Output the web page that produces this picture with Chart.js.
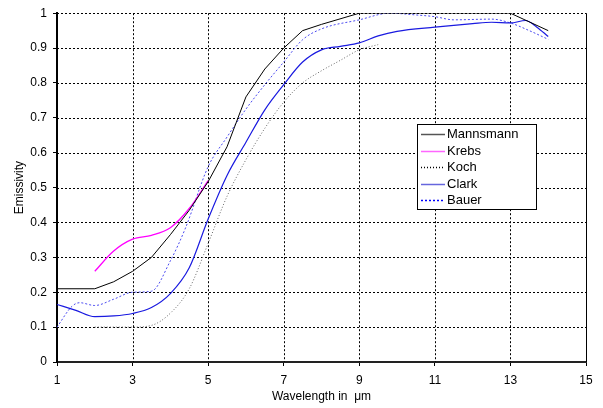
<!DOCTYPE html>
<html lang="en">
  <head>
    <meta charset="UTF-8" />
    <style>
      html, body { margin: 0; padding: 0; background: #fff; }
    </style>
  </head>
  <body>
    <canvas id="myChart" width="603" height="408"></canvas>
    <script src="https://cdn.jsdelivr.net/npm/chart.js@4.4.0/dist/chart.umd.min.js"></script>
    <script>
      // wavelength (um) / emissivity pairs
      var mannsmannX = [1, 2, 2.5, 3, 3.5, 4, 4.5, 5, 5.5, 6, 6.5, 7, 7.5, 8, 9, 10, 11, 12, 13, 14];
      var mannsmannY = [0.21, 0.21, 0.23, 0.26, 0.3, 0.365, 0.435, 0.517, 0.617, 0.76, 0.84, 0.9, 0.95, 0.968, 1, 1, 1, 1, 1, 0.95];

      var krebsX = [2, 2.5, 3, 3.5, 4, 4.5, 5];
      var krebsY = [0.26, 0.318, 0.352, 0.363, 0.385, 0.44, 0.52];

      var kochX = [2, 3, 3.5, 4, 4.5, 5, 5.5, 6, 6.5, 7, 7.5, 8, 8.5, 9, 9.5];
      var kochY = [0.1, 0.1, 0.105, 0.14, 0.21, 0.34, 0.475, 0.58, 0.67, 0.745, 0.8, 0.835, 0.865, 0.895, 0.91];

      var clarkX = [1, 1.5, 2, 2.5, 3, 3.5, 4, 4.5, 5, 5.5, 6, 6.5, 7, 7.5, 8, 8.5, 9, 9.5, 10, 11, 12, 12.5, 13, 13.4, 13.7, 14];
      var clarkY = [0.165, 0.148, 0.13, 0.132, 0.139, 0.156, 0.196, 0.27, 0.41, 0.535, 0.63, 0.723, 0.795, 0.86, 0.895, 0.905, 0.915, 0.935, 0.948, 0.96, 0.97, 0.974, 0.972, 0.979, 0.96, 0.933];

      var bauerX = [1, 1.4, 1.6, 2, 2.5, 3, 3.5, 4, 4.4, 5, 5.5, 6, 6.5, 7, 7.5, 8, 9, 9.8, 10.5, 11, 11.5, 12.5, 13, 13.5, 14];
      var bauerY = [0.1, 0.16, 0.17, 0.162, 0.18, 0.2, 0.203, 0.29, 0.384, 0.56, 0.645, 0.725, 0.795, 0.86, 0.924, 0.955, 0.981, 1, 0.995, 0.99, 0.981, 0.983, 0.972, 0.95, 0.925];

      var xTicks = [1, 3, 5, 7, 9, 11, 13, 15];
      var yTicks = [0, 0.1, 0.2, 0.3, 0.4, 0.5, 0.6, 0.7, 0.8, 0.9, 1];

      function pts(xs, ys) {
        return xs.map(function (x, i) {
          return { x: x, y: ys[i] };
        });
      }

      Chart.defaults.font.family = "'Liberation Sans', Arial, sans-serif";
      Chart.defaults.color = "#000";

      // dotted grid, solid right edge
      var dottedGrid = {
        id: "dottedGrid",
        beforeDatasetsDraw: function (chart) {
          var ctx = chart.ctx;
          var a = chart.chartArea;
          var xs = chart.scales.x, ys = chart.scales.y;
          ctx.save();
          ctx.strokeStyle = "#000";
          ctx.lineWidth = 1;
          yTicks.forEach(function (v) {
            if (v === 0) return;
            var y = Math.round(ys.getPixelForValue(v)) + 0.5;
            ctx.setLineDash([2, 2]);
            ctx.beginPath();
            ctx.moveTo(a.left, y);
            ctx.lineTo(a.right, y);
            ctx.stroke();
          });
          xTicks.forEach(function (v, i) {
            if (i === 0) return;
            var x = Math.round(xs.getPixelForValue(v)) + 0.5;
            ctx.setLineDash(i === xTicks.length - 1 ? [] : [2, 2]);
            ctx.beginPath();
            ctx.moveTo(x, a.top);
            ctx.lineTo(x, a.bottom);
            ctx.stroke();
          });
          ctx.restore();
        },
      };

      // legend box drawn inside the plot, like the original
      var boxLegend = {
        id: "boxLegend",
        afterDraw: function (chart) {
          var ctx = chart.ctx;
          var left = 417, top = 124, w = 119, h = 85;
          ctx.save();
          ctx.fillStyle = "#fff";
          ctx.fillRect(left, top, w, h);
          ctx.strokeStyle = "#000";
          ctx.lineWidth = 1;
          ctx.setLineDash([]);
          ctx.strokeRect(left + 0.5, top + 0.5, w, h);
          ctx.font = "13px 'Liberation Sans', Arial, sans-serif";
          ctx.textBaseline = "middle";
          chart.data.datasets.forEach(function (ds, i) {
            var y = Math.round(top + 10 + i * 16.6) + 0.5;
            ctx.beginPath();
            ctx.strokeStyle = ds.legendColor || ds.borderColor;
            ctx.lineWidth = 1.5;
            ctx.setLineDash(ds.borderDash || []);
            ctx.moveTo(left + 4, y);
            ctx.lineTo(left + 28, y);
            ctx.stroke();
            ctx.setLineDash([]);
            ctx.fillStyle = "#000";
            ctx.fillText(ds.label, left + 30, y);
          });
          ctx.restore();
        },
      };

      var ctx = document.getElementById("myChart").getContext("2d");
      var chart = new Chart(ctx, {
        type: "line",
        data: {
          datasets: [
            {
              label: "Mannsmann",
              data: pts(mannsmannX, mannsmannY),
              borderColor: "#000",
              legendColor: "#555",
              borderWidth: 1,
              tension: 0,
            },
            {
              label: "Krebs",
              data: pts(krebsX, krebsY),
              borderColor: "#ff00ff",
              legendColor: "#ff66ff",
              borderWidth: 1.3,
              cubicInterpolationMode: "monotone",
            },
            {
              label: "Koch",
              data: pts(kochX, kochY),
              borderColor: "#666",
              legendColor: "#000",
              borderWidth: 1,
              borderDash: [1, 2],
              cubicInterpolationMode: "monotone",
            },
            {
              label: "Clark",
              data: pts(clarkX, clarkY),
              borderColor: "#1a1ae0",
              legendColor: "#6666dd",
              borderWidth: 1.2,
              cubicInterpolationMode: "monotone",
            },
            {
              label: "Bauer",
              data: pts(bauerX, bauerY),
              borderColor: "#4a4af0",
              legendColor: "#0000ff",
              borderWidth: 1,
              borderDash: [2, 2],
              cubicInterpolationMode: "monotone",
            },
          ],
        },
        options: {
          responsive: false,
          animation: false,
          layout: { padding: { left: 0, top: 10, right: 17, bottom: 0 } },
          elements: { point: { radius: 0 } },
          plugins: { legend: { display: false }, tooltip: { enabled: false } },
          scales: {
            x: {
              type: "linear",
              min: 1,
              max: 15,
              afterBuildTicks: function (scale) {
                scale.ticks = xTicks.map(function (v) {
                  return { value: v };
                });
              },
              afterFit: function (scale) {
                scale.height = 46;
              },
              grid: {
                drawOnChartArea: false,
                color: "#000",
                lineWidth: 1,
                tickLength: 4,
                tickColor: "#000",
              },
              border: { display: true, color: "#222", width: 2 },
              ticks: {
                padding: 7,
                maxRotation: 0,
                font: { size: 12 },
              },
              title: {
                display: true,
                text: "Wavelength in  μm",
                font: { size: 12 },
                padding: { top: 0, bottom: 4 },
              },
            },
            y: {
              min: 0,
              max: 1,
              afterBuildTicks: function (scale) {
                scale.ticks = yTicks.map(function (v) {
                  return { value: v };
                });
              },
              afterFit: function (scale) {
                scale.width = 57;
              },
              grid: {
                drawOnChartArea: false,
                color: "#000",
                lineWidth: 1,
                tickLength: 4,
                tickColor: "#000",
              },
              border: { display: true, color: "#000", width: 2 },
              ticks: {
                padding: 6,
                font: { size: 12 },
                callback: function (v) {
                  return String(Math.round(v * 10) / 10);
                },
              },
              title: {
                display: true,
                text: "Emissivity",
                font: { size: 12 },
                padding: { top: 12, bottom: 0 },
              },
            },
          },
        },
        plugins: [dottedGrid, boxLegend],
      });
    </script>
  </body>
</html>
